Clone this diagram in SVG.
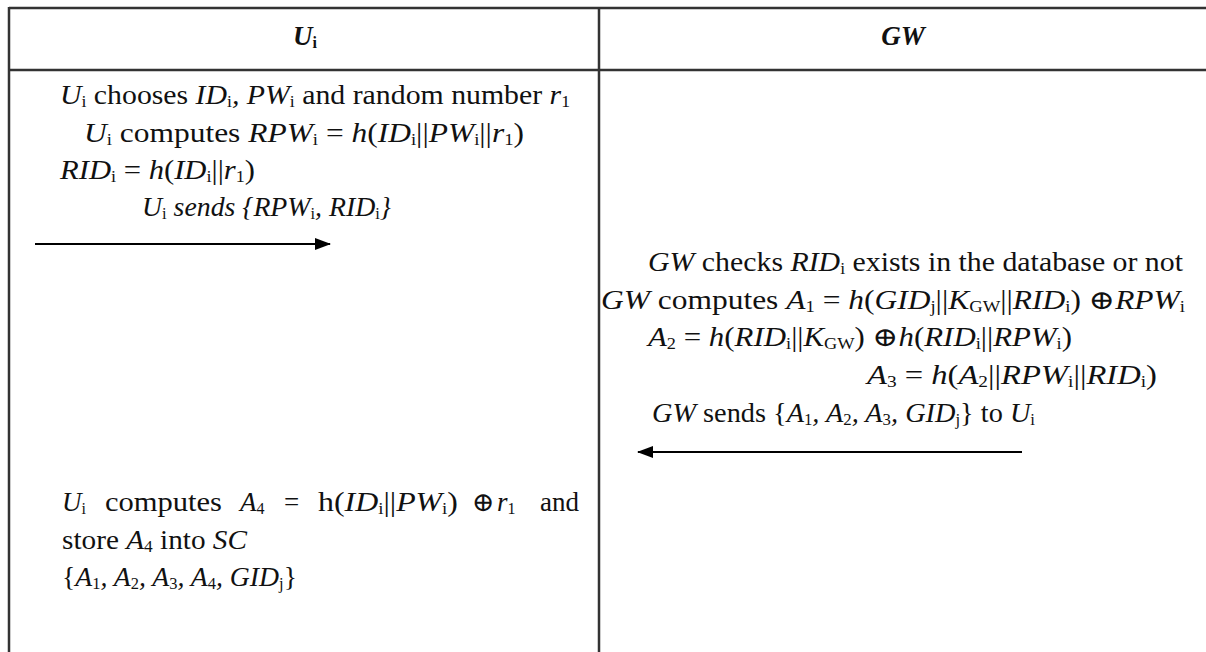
<svg xmlns="http://www.w3.org/2000/svg" width="1206" height="652" viewBox="0 0 1206 652">
<defs>
<style>
text{font-family:"Liberation Serif","DejaVu Serif",serif;font-size:27px;fill:#111;}
.i{font-style:italic;}
.s{font-size:16px;baseline-shift:-3px;font-style:normal;}
.h{font-weight:bold;font-style:italic;font-size:27px;}
.rule{stroke:#333;stroke-width:2.5;fill:none;}
.arr{stroke:#000;stroke-width:2;fill:none;}
</style>
<marker id="ah" markerWidth="16" markerHeight="12" refX="15" refY="6" orient="auto" markerUnits="userSpaceOnUse">
<path d="M0,0 L16,6 L0,12 Z" fill="#000"/>
</marker>
</defs>
<rect width="1206" height="652" fill="#fff"/>
<g id="table">
<line class="rule" x1="9" y1="8" x2="1206" y2="8"/>
<line class="rule" x1="9" y1="70" x2="1206" y2="70"/>
<line class="rule" x1="9" y1="7" x2="9" y2="652"/>
<line class="rule" x1="599" y1="8" x2="599" y2="652" stroke-width="2"/>
</g>
<g id="header-ui"><text class="h" x="305" y="45" text-anchor="middle">U<tspan class="s">i</tspan></text></g>
<g id="header-gw"><text class="h" x="903" y="45" text-anchor="middle">GW</text></g>
<g id="ui-registration">
<text x="60" y="104" textLength="510" lengthAdjust="spacingAndGlyphs"><tspan class="i">U<tspan class="s">i</tspan></tspan> chooses <tspan class="i">ID<tspan class="s">i</tspan>, PW<tspan class="s">i</tspan></tspan> and random number <tspan class="i">r<tspan class="s">1</tspan></tspan></text>
<text x="84" y="142" textLength="440" lengthAdjust="spacingAndGlyphs"><tspan class="i">U<tspan class="s">i</tspan></tspan> computes <tspan class="i">RPW<tspan class="s">i</tspan></tspan> = <tspan class="i">h</tspan>(<tspan class="i">ID<tspan class="s">i</tspan></tspan>||<tspan class="i">PW<tspan class="s">i</tspan></tspan>||<tspan class="i">r<tspan class="s">1</tspan></tspan>)</text>
<text x="60" y="179" textLength="195" lengthAdjust="spacingAndGlyphs"><tspan class="i">RID<tspan class="s">i</tspan></tspan> = <tspan class="i">h</tspan>(<tspan class="i">ID<tspan class="s">i</tspan></tspan>||<tspan class="i">r<tspan class="s">1</tspan></tspan>)</text>
<text x="142" y="216" textLength="249" lengthAdjust="spacingAndGlyphs" class="i">U<tspan class="s">i</tspan> sends {RPW<tspan class="s">i</tspan>, RID<tspan class="s">i</tspan>}</text>
</g>
<g id="gw-processing">
<text x="648" y="271" textLength="535" lengthAdjust="spacingAndGlyphs"><tspan class="i">GW</tspan> checks <tspan class="i">RID<tspan class="s">i</tspan></tspan> exists in the database or not</text>
<text x="601" y="309" textLength="584" lengthAdjust="spacingAndGlyphs"><tspan class="i">GW</tspan> computes <tspan class="i">A<tspan class="s">1</tspan></tspan> = <tspan class="i">h</tspan>(<tspan class="i">GID<tspan class="s">j</tspan></tspan>||<tspan class="i">K<tspan class="s">GW</tspan></tspan>||<tspan class="i">RID<tspan class="s">i</tspan></tspan>)  ⊕<tspan class="i">RPW<tspan class="s">i</tspan></tspan></text>
<text x="648" y="346" textLength="424" lengthAdjust="spacingAndGlyphs"><tspan class="i">A<tspan class="s">2</tspan></tspan> = <tspan class="i">h</tspan>(<tspan class="i">RID<tspan class="s">i</tspan></tspan>||<tspan class="i">K<tspan class="s">GW</tspan></tspan>)  ⊕<tspan class="i">h</tspan>(<tspan class="i">RID<tspan class="s">i</tspan></tspan>||<tspan class="i">RPW<tspan class="s">i</tspan></tspan>)</text>
<text x="867" y="384" textLength="290" lengthAdjust="spacingAndGlyphs"><tspan class="i">A<tspan class="s">3</tspan></tspan> = <tspan class="i">h</tspan>(<tspan class="i">A<tspan class="s">2</tspan></tspan>||<tspan class="i">RPW<tspan class="s">i</tspan></tspan>||<tspan class="i">RID<tspan class="s">i</tspan></tspan>)</text>
<text x="652" y="422" textLength="383" lengthAdjust="spacingAndGlyphs"><tspan class="i">GW</tspan> sends {<tspan class="i">A<tspan class="s">1</tspan>, A<tspan class="s">2</tspan>, A<tspan class="s">3</tspan>, GID<tspan class="s">j</tspan></tspan>} to <tspan class="i">U<tspan class="s">i</tspan></tspan></text>
</g>
<g id="ui-storage">
<text y="511"><tspan x="62" class="i">U<tspan class="s">i</tspan></tspan><tspan x="105" textLength="117" lengthAdjust="spacingAndGlyphs">computes</tspan><tspan x="240" class="i">A<tspan class="s">4</tspan></tspan><tspan x="284">=</tspan><tspan x="318" textLength="140" lengthAdjust="spacingAndGlyphs">h(<tspan class="i">ID<tspan class="s">i</tspan></tspan>||<tspan class="i">PW<tspan class="s">i</tspan></tspan>)</tspan><tspan x="472">⊕</tspan><tspan x="497" class="i">r<tspan class="s">1</tspan></tspan><tspan x="540">and</tspan></text>
<text x="62" y="549" textLength="185" lengthAdjust="spacingAndGlyphs">store <tspan class="i">A<tspan class="s">4</tspan></tspan> into <tspan class="i">SC</tspan></text>
<text x="62" y="586" textLength="235" lengthAdjust="spacingAndGlyphs">{<tspan class="i">A<tspan class="s">1</tspan>, A<tspan class="s">2</tspan>, A<tspan class="s">3</tspan>, A<tspan class="s">4</tspan>, GID<tspan class="s">j</tspan></tspan>}</text>
</g>
<g id="connectors">
<line class="arr" x1="35" y1="244" x2="330" y2="244" marker-end="url(#ah)"/>
<line class="arr" x1="1022" y1="452" x2="638" y2="452" marker-end="url(#ah)"/>
</g>
</svg>
